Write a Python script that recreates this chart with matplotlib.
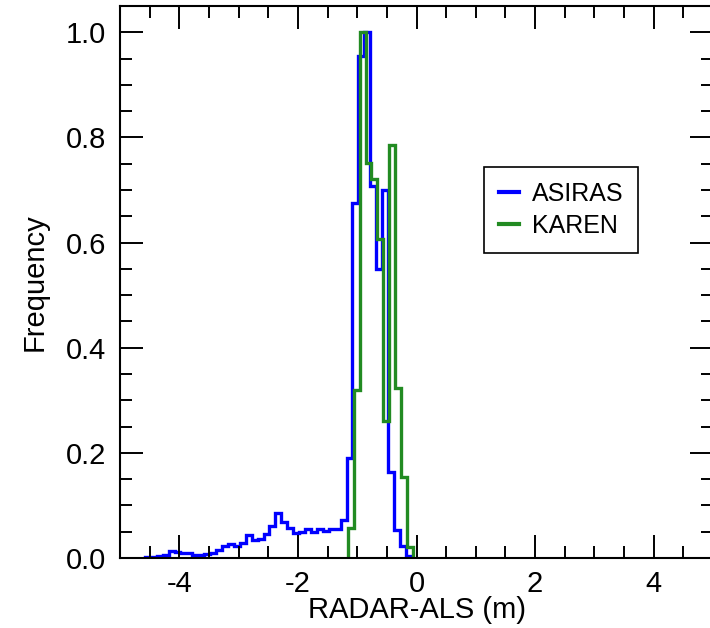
import numpy as np
import matplotlib
matplotlib.use("Agg")
import matplotlib.pyplot as plt
from matplotlib.ticker import MultipleLocator

plt.rcParams["font.family"] = ["Liberation Sans", "DejaVu Sans"]

# histogram data, normalised to peak = 1, bin width 0.1 m
BIN_WIDTH = 0.1
ASIRAS_START = -4.58
ASIRAS_FREQ = [
    0.001, 0.001, 0.004, 0.006, 0.013, 0.012, 0.009, 0.009, 0.006, 0.006,
    0.008, 0.010, 0.015, 0.023, 0.027, 0.022, 0.029, 0.044, 0.034, 0.036,
    0.046, 0.060, 0.086, 0.069, 0.058, 0.048, 0.050, 0.055, 0.050, 0.055,
    0.052, 0.055, 0.056, 0.072, 0.190, 0.676, 0.955, 1.000, 0.707, 0.549,
    0.700, 0.164, 0.053, 0.022, 0.004,
]
KAREN_START = -1.16
KAREN_FREQ = [0.058, 0.320, 1.000, 0.752, 0.721, 0.606, 0.260, 0.785, 0.323, 0.155, 0.020]

ASIRAS_COLOR = "#0000FF"
KAREN_COLOR = "#228B22"


def edges(start, n):
    return start + BIN_WIDTH * np.arange(n + 1)


fig = plt.figure(figsize=(7.1, 6.28), dpi=100)
# axes run a little past the right edge of the figure, as in the original crop
ax = fig.add_axes([120 / 710, 1 - 558 / 628, 593 / 710, 552 / 628])

ax.stairs(ASIRAS_FREQ, edges(ASIRAS_START, len(ASIRAS_FREQ)),
          color=ASIRAS_COLOR, linewidth=2.4, label="ASIRAS")
ax.stairs(KAREN_FREQ, edges(KAREN_START, len(KAREN_FREQ)),
          color=KAREN_COLOR, linewidth=2.4, label="KAREN")

ax.set_xlim(-5, 5)
ax.set_ylim(0, 1.05)
ax.xaxis.set_major_locator(MultipleLocator(2))
ax.xaxis.set_minor_locator(MultipleLocator(0.5))
ax.yaxis.set_major_locator(MultipleLocator(0.2))
ax.yaxis.set_minor_locator(MultipleLocator(0.05))
ax.xaxis.set_major_formatter(plt.FuncFormatter(lambda v, p: f"{v:.0f}"))
ax.yaxis.set_major_formatter(plt.FuncFormatter(lambda v, p: f"{v:.1f}"))

ax.tick_params(which="both", direction="in", top=True, right=True,
               width=1.4, labelsize=21)
ax.tick_params(which="major", length=16.5)
ax.tick_params(which="minor", length=8.5)
ax.tick_params(axis="x", pad=9)
ax.tick_params(axis="y", pad=10)
for sp in ax.spines.values():
    sp.set_linewidth(1.5)

ax.set_xlabel("RADAR-ALS (m)", fontsize=21, labelpad=-2)
ax.set_ylabel("Frequency", fontsize=21, labelpad=12)

leg = ax.legend(loc="upper left", bbox_to_anchor=(0.614, 0.708),
                borderaxespad=0, fontsize=18, handlelength=0.8,
                handletextpad=0.5, fancybox=False, framealpha=1,
                edgecolor="black", borderpad=0.6, labelspacing=0.3)
leg.get_frame().set_linewidth(1.2)
for line in leg.get_lines():
    line.set_linewidth(3)

fig.savefig("out.png", dpi=100)
